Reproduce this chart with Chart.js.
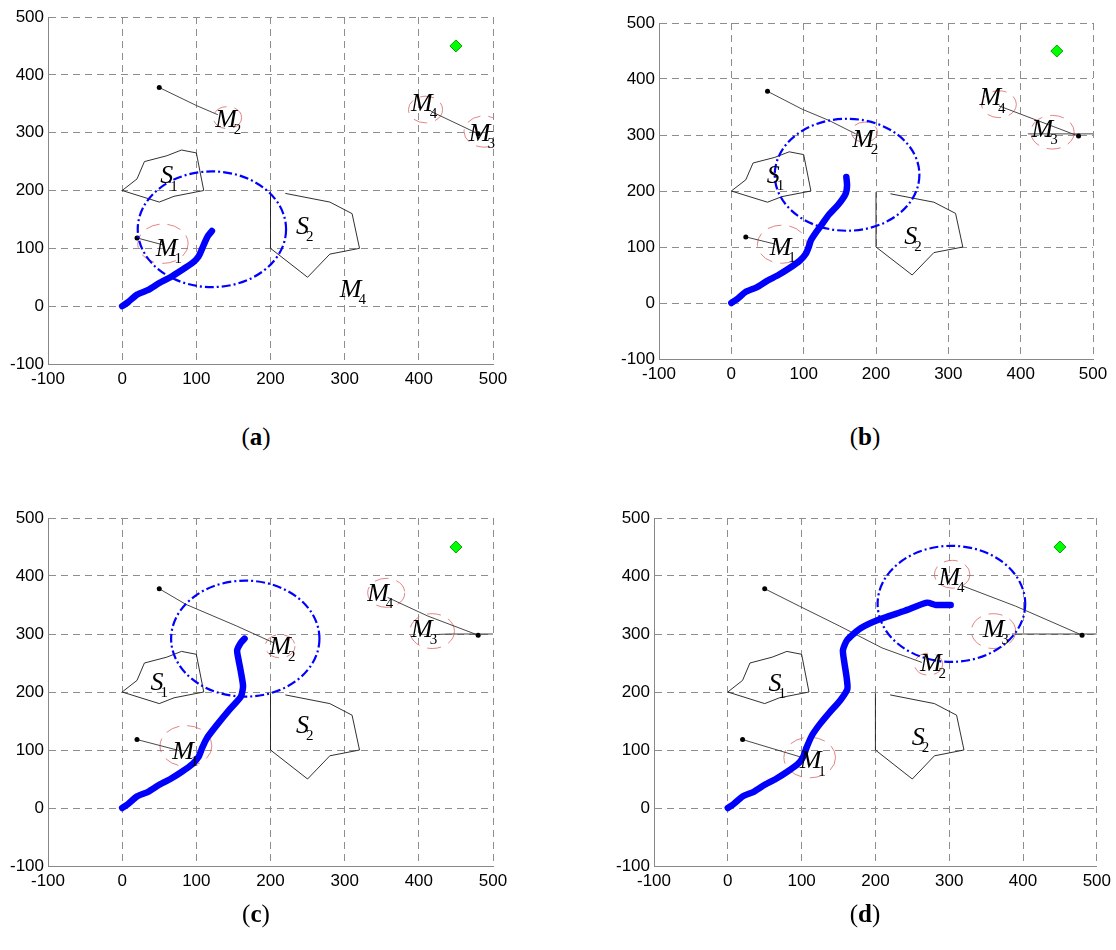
<!DOCTYPE html>
<html>
<head>
  <meta charset="utf-8">
  <title>Robot path planning snapshots</title>
  <script src="https://cdn.jsdelivr.net/npm/chart.js@4.4.0/dist/chart.umd.min.js"></script>
  <style>
    body { margin: 0; background: #fff; width: 1116px; height: 950px; position: relative; overflow: hidden; }
    .panel { position: absolute; }
    .cap { position: absolute; width: 100px; text-align: center; font-family: "Liberation Serif", serif; font-size: 25px; line-height: 26px; color: #000; }
  </style>
</head>
<body>
  <div class="panel" style="left:0;top:0"><canvas id="ca" width="520" height="400"></canvas></div>
  <div class="panel" style="left:611px;top:0"><canvas id="cb" width="505" height="395"></canvas></div>
  <div class="panel" style="left:0;top:500px"><canvas id="cc" width="520" height="402"></canvas></div>
  <div class="panel" style="left:606px;top:500px"><canvas id="cd" width="510" height="402"></canvas></div>
  <div class="cap" style="left:206px;top:424px">(<b>a</b>)</div>
  <div class="cap" style="left:815px;top:424px">(<b>b</b>)</div>
  <div class="cap" style="left:206px;top:901px">(<b>c</b>)</div>
  <div class="cap" style="left:815px;top:901px">(<b>d</b>)</div>

  <script>
    // shared scene
    const tickValues = [-100, 0, 100, 200, 300, 400, 500];
    const goal = [[450, 450]];
    const starts = [[20, 118], [50, 378], [480, 298]];
    const s1 = [[0, 200], [20, 220], [30, 250], [60, 260], [80, 270], [100, 265], [110, 200], [70, 190], [50, 180], [0, 200]];
    const s2 = [[220, 195], [280, 180], [310, 160], [320, 100], [280, 90], [250, 50], [200, 100], [200, 198]];

    // (a)
    const robotA = [[0, 0], [8, 7], [20, 20], [35, 28], [50, 40], [65, 50], [80, 62], [95, 75], [103, 86], [108, 100], [112, 112], [116, 122], [121, 130]];
    const m1A = [[20, 118], [55, 106]];
    const m2A = [[50, 378], [100, 347], [129, 331]];
    const m3A = [[500, 302], [492, 302]];
    const m4A = [[480, 298], [416, 337]];
    const senseA = [121, 133, 100];
    const ringsA = [[55, 108, 34], [142, 326, 19], [409, 340, 23], [488, 302, 27]];
    const labelsA = [['M', '1', 60, 99], ['M', '2', 140, 321], ['M', '4', 404, 350], ['M', '3', 482, 298], ['M', '4', 308, 27], ['S', '1', 60, 224], ['S', '2', 243, 137]];

    // (b)
    const robotB = [[0, 0], [8, 7], [20, 20], [35, 28], [50, 40], [65, 50], [80, 62], [95, 76], [103, 88], [107, 100], [110, 112], [118, 128], [125, 140], [135, 158], [148, 176], [158, 195], [160, 210], [159, 225]];
    const m1B = [[20, 118], [61, 105]];
    const m2B = [[50, 378], [98, 346], [135, 326], [172, 302]];
    const m3B = [[500, 302], [410, 302]];
    const m4B = [[480, 298], [370, 352]];
    const senseB = [160, 229, 100];
    const ringsB = [[70, 105, 34], [184, 305, 18], [370, 355, 24], [444, 305, 30]];
    const labelsB = [['M', '1', 68, 98], ['M', '2', 182, 291], ['M', '4', 358, 365], ['M', '3', 430, 309], ['S', '1', 58, 226], ['S', '2', 248, 117]];

    // (c)
    const robotC = [[0, 0], [8, 7], [20, 20], [35, 28], [50, 40], [65, 50], [80, 62], [95, 76], [103, 88], [108, 104], [114, 120], [127, 142], [145, 170], [160, 192], [163, 210], [160, 235], [157, 255], [155, 272], [160, 285], [165, 292]];
    const m1C = [[20, 118], [77, 99]];
    const m2C = [[50, 378], [86, 351], [154, 314], [204, 285]];
    const m3C = [[500, 300], [440, 300], [421, 299]];
    const m4C = [[480, 298], [412, 331], [358, 363]];
    const senseC = [166, 292, 100];
    const ringsC = [[86, 107, 35], [213, 279, 20], [356, 371, 25], [418, 305, 30]];
    const labelsC = [['M', '1', 82, 97], ['M', '2', 213, 278], ['M', '4', 345, 369], ['M', '3', 404, 306], ['S', '1', 47, 216], ['S', '2', 243, 141]];

    // (d)
    const robotD = [[0, 0], [8, 7], [20, 20], [35, 28], [50, 40], [65, 50], [80, 62], [95, 76], [102, 88], [107, 105], [114, 125], [125, 145], [138, 165], [152, 185], [162, 205], [161, 225], [158, 250], [156, 272], [162, 290], [180, 310], [205, 325], [240, 340], [270, 354], [282, 350], [302, 350]];
    const m1D = [[20, 118], [101, 87]];
    const m2D = [[50, 378], [97, 348], [151, 314], [209, 276], [263, 251]];
    const m3D = [[500, 300], [385, 300]];
    const m4D = [[480, 298], [390, 348], [318, 383]];
    const senseD = [303, 352, 100];
    const ringsD = [[111, 87, 35], [272, 248, 19], [304, 403, 24], [360, 305, 30]];
    const labelsD = [['M', '1', 112, 80], ['M', '2', 275, 248], ['M', '4', 300, 397], ['M', '3', 360, 306], ['S', '1', 64, 214], ['S', '2', 258, 121]];

    const panels = {
      ca: { robot: robotA, paths: [m1A, m2A, m3A, m4A], sense: senseA, rings: ringsA, labels: labelsA, pad: { top: 17, right: 27, left: 0, bottom: 0 } },
      cb: { robot: robotB, paths: [m1B, m2B, m3B, m4B], sense: senseB, rings: ringsB, labels: labelsB, pad: { top: 23, right: 23, left: 0, bottom: 0 } },
      cc: { robot: robotC, paths: [m1C, m2C, m3C, m4C], sense: senseC, rings: ringsC, labels: labelsC, pad: { top: 18, right: 27, left: 0, bottom: 0 } },
      cd: { robot: robotD, paths: [m1D, m2D, m3D, m4D], sense: senseD, rings: ringsD, labels: labelsD, pad: { top: 18, right: 11, left: 0, bottom: 0 } }
    };

    const pts = arr => arr.map(([x, y]) => ({ x, y }));

    function ellipse(ctx, xs, ys, cx, cy, r) {
      const px = xs.getPixelForValue(cx), py = ys.getPixelForValue(cy);
      const rx = Math.abs(xs.getPixelForValue(cx + r) - px);
      const ry = Math.abs(ys.getPixelForValue(cy + r) - py);
      ctx.beginPath();
      ctx.ellipse(px, py, rx, ry, 0, 0, Math.PI * 2);
      ctx.stroke();
    }

    const overlay = {
      id: 'overlay',
      beforeDatasetsDraw(chart) {
        const p = panels[chart.canvas.id];
        const { ctx, chartArea: a, scales: { x, y } } = chart;
        ctx.save();
        ctx.beginPath();
        ctx.rect(a.left, a.top, a.right - a.left, a.bottom - a.top);
        ctx.clip();
        ctx.strokeStyle = 'rgba(215,95,95,0.85)';
        ctx.lineWidth = 0.9;
        ctx.setLineDash([14, 8]);
        p.rings.forEach(([cx, cy, r]) => ellipse(ctx, x, y, cx, cy, r));
        ctx.restore();
      },
      afterDatasetsDraw(chart) {
        const p = panels[chart.canvas.id];
        const { ctx, chartArea: a, scales: { x, y } } = chart;
        ctx.save();
        ctx.beginPath();
        ctx.rect(a.left, a.top, a.right - a.left, a.bottom - a.top);
        ctx.clip();
        ctx.strokeStyle = '#0000ff';
        ctx.lineWidth = 2.2;
        ctx.setLineDash([9, 3, 2, 3]);
        ellipse(ctx, x, y, p.sense[0], p.sense[1], p.sense[2]);
        ctx.restore();

        ctx.save();
        ctx.fillStyle = '#000';
        p.labels.forEach(([t, sub, lx, ly]) => {
          const px = x.getPixelForValue(lx), py = y.getPixelForValue(ly);
          ctx.font = 'italic 26px "Liberation Serif"';
          ctx.textAlign = 'center';
          ctx.textBaseline = 'middle';
          ctx.fillText(t, px, py);
          const w = ctx.measureText(t).width;
          ctx.font = '15px "Liberation Serif"';
          ctx.textAlign = 'left';
          ctx.fillText(sub, px + w / 2 - 3, py + 10);
        });
        ctx.restore();
      }
    };

    function axis(pos) {
      return {
        type: 'linear',
        position: pos,
        min: -100,
        max: 500,
        afterBuildTicks: s => { s.ticks = tickValues.map(v => ({ value: v })); },
        afterFit: s => { if (pos === 'left') s.width = 48; else s.height = 36; },
        ticks: {
          color: '#000',
          font: { family: 'Liberation Sans', size: 17 },
          padding: pos === 'left' ? 4 : 5,
          maxRotation: 0,
          autoSkip: false
        },
        grid: { color: '#8e8e8e', lineWidth: 1, drawTicks: false },
        border: { display: true, color: '#888', width: 1, dash: [7, 5] }
      };
    }

    Object.keys(panels).forEach(id => {
      const p = panels[id];
      const thin = (data, color) => ({
        data: pts(data), showLine: true, borderColor: color, borderWidth: 0.9,
        pointRadius: 0, fill: false, tension: 0
      });
      new Chart(document.getElementById(id), {
        type: 'scatter',
        data: {
          datasets: [
            { data: pts(goal), pointStyle: 'rectRot', pointRadius: 6, backgroundColor: '#00ff00', borderColor: '#00a000', borderWidth: 1 },
            { data: pts(starts), pointRadius: 2.5, backgroundColor: '#000', borderColor: '#000', borderWidth: 0 },
            {
              data: pts(p.robot), showLine: true, borderColor: '#0000ff', borderWidth: 6.5,
              borderCapStyle: 'round', borderJoinStyle: 'round', pointRadius: 0, tension: 0.2
            },
            ...p.paths.map(d => thin(d, '#333')),
            thin(s1, '#1a1a1a'),
            thin(s2, '#1a1a1a')
          ]
        },
        options: {
          responsive: false,
          animation: false,
          layout: { padding: p.pad },
          plugins: { legend: { display: false }, tooltip: { enabled: false } },
          scales: { x: axis('bottom'), y: axis('left') }
        },
        plugins: [overlay]
      });
    });
  </script>
</body>
</html>
